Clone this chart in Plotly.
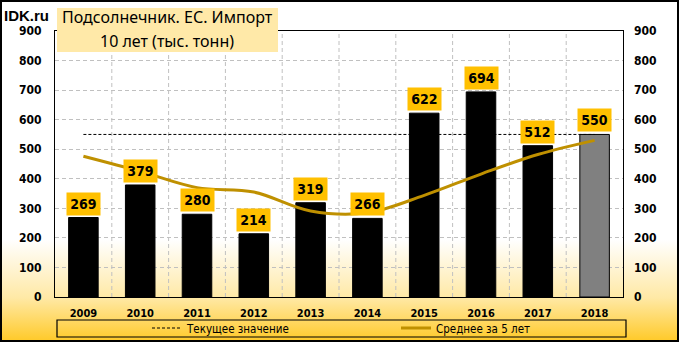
import base64
import plotly.graph_objects as go

years = ["2009", "2010", "2011", "2012", "2013", "2014", "2015", "2016", "2017", "2018"]
imports = [269, 379, 280, 214, 319, 266, 622, 694, 512, 550]
avg5 = [476, 425, 370, 355, 291, 285, 344, 416, 482, 530]
current_value = 550
bar_colors = ["#000000"] * 9 + ["#808080"]
tick_vals = list(range(0, 901, 100))
x_idx = list(range(len(years)))
y_min, y_max = 0, 900

W, H = 679, 342
ML, MR, MT, MB = 55, 56, 31, 45
PW, PH = W - ML - MR, H - MT - MB

def px_x(p):
    return (p - ML) / PW

def px_y(p):
    return (H - MB - p) / PH

svg = f'''<svg xmlns="http://www.w3.org/2000/svg" width="{W}" height="{H}" viewBox="0 0 {W} {H}" preserveAspectRatio="none">
<defs><linearGradient id="g" x1="0" y1="0" x2="0" y2="1">
<stop offset="0" stop-color="#FFFFFF"/>
<stop offset="0.70" stop-color="#FFFFFF"/>
<stop offset="0.87" stop-color="#FFE9A6"/>
<stop offset="1" stop-color="#FFC926"/>
</linearGradient></defs>
<rect x="0" y="0" width="{W}" height="{H}" fill="url(#g)"/></svg>'''
svg_uri = "data:image/svg+xml;base64," + base64.b64encode(svg.encode()).decode()

NARROW = "Liberation Sans Narrow, DejaVu Sans Condensed, sans-serif"
COND = "DejaVu Sans Condensed, DejaVu Sans, sans-serif"

fig = go.Figure()

# vertical gridlines at category boundaries (drawn on the base axis, under the bars)
gx, gy = [], []
for i in x_idx[:-1]:
    gx += [i + 0.5, i + 0.5, None]
    gy += [y_min, y_max, None]
fig.add_trace(go.Scatter(
    x=gx, y=gy, mode="lines", line=dict(color="#C0C0C0", width=1, dash="4px,3px"),
    showlegend=False, hoverinfo="skip", yaxis="y", connectgaps=False))

fig.add_trace(go.Scatter(
    x=x_idx, y=[current_value] * len(years), mode="lines",
    line=dict(color="#000000", width=1, dash="3px,2px"),
    name="Текущее значение", yaxis="y", hoverinfo="skip"))

fig.add_trace(go.Bar(
    x=x_idx, y=imports, marker=dict(color=bar_colors, line=dict(color="#000000", width=1)),
    width=0.52, showlegend=False, yaxis="y2"))

fig.add_trace(go.Scatter(
    x=x_idx, y=avg5, mode="lines",
    line=dict(color="#BF9000", width=3, shape="spline", smoothing=1.0),
    name="Среднее за 5 лет", yaxis="y2"))

annotations = []
for i, v in zip(x_idx, imports):
    annotations.append(dict(
        x=i, y=v, xref="x", yref="y2", yanchor="bottom", yshift=2,
        text=f"<b>{v}</b>", showarrow=False, bgcolor="#FFC000",
        width=33, height=22, borderpad=0,
        font=dict(family=COND, size=14, color="#000000")))

annotations += [
    dict(xref="paper", yref="paper", x=px_x(2), y=px_y(16), xanchor="left", yanchor="middle",
         text="<b>IDK.ru</b>", showarrow=False,
         font=dict(family="Liberation Sans, Arial, sans-serif", size=15, color="#000000")),
    dict(xref="paper", yref="paper", x=px_x(167), y=px_y(17), xanchor="center", yanchor="middle",
         text="Подсолнечник. ЕС. Импорт", showarrow=False,
         font=dict(family="Noto Sans, sans-serif", size=16, color="#000000")),
    dict(xref="paper", yref="paper", x=px_x(167), y=px_y(41), xanchor="center", yanchor="middle",
         text="10 лет (тыс. тонн)", showarrow=False,
         font=dict(family="Noto Sans, sans-serif", size=16, color="#000000")),
]

shapes = [
    dict(type="rect", xref="paper", yref="paper", x0=px_x(57), x1=px_x(278), y0=px_y(52), y1=px_y(8),
         fillcolor="#FFE9A8", line=dict(width=0), layer="above"),
    dict(type="rect", xref="paper", yref="paper", x0=px_x(57), x1=px_x(626), y0=px_y(337), y1=px_y(320),
         fillcolor="rgba(0,0,0,0)", line=dict(color="#000000", width=1.2), layer="above"),
    dict(type="rect", xref="paper", yref="paper", x0=px_x(1), x1=px_x(W - 1), y0=px_y(H - 1), y1=px_y(1),
         fillcolor="rgba(0,0,0,0)", line=dict(color="#000000", width=2), layer="above"),
]

fig.update_layout(
    width=W, height=H,
    margin=dict(l=ML, r=MR, t=MT, b=MB, pad=0, autoexpand=False),
    paper_bgcolor="#FFFFFF", plot_bgcolor="rgba(0,0,0,0)",
    images=[dict(source=svg_uri, xref="paper", yref="paper", x=px_x(0), y=px_y(0),
                 sizex=W / PW, sizey=H / PH, xanchor="left", yanchor="top",
                 sizing="stretch", layer="below")],
    xaxis=dict(type="linear", range=[-0.5, 9.5], autorange=False,
               tickvals=x_idx, ticktext=years, showgrid=False,
               showline=True, linecolor="#000000", linewidth=1, zeroline=False,
               mirror=True, ticks="", ticklabelstandoff=6, tickangle=0,
               tickfont=dict(family=NARROW, size=11, color="#000000", weight="bold")),
    yaxis=dict(range=[y_min, y_max], autorange=False, tickvals=tick_vals, showgrid=True, gridcolor="#C0C0C0",
               griddash="4px,3px", gridwidth=1, showline=True, linecolor="#000000", linewidth=1, mirror=True,
               ticks="", ticklabelstandoff=10, zeroline=False,
               tickfont=dict(family=COND, size=12, color="#000000", weight="bold")),
    yaxis2=dict(range=[y_min, y_max], autorange=False, tickvals=tick_vals, overlaying="y", side="right",
                showgrid=False, zeroline=False, showline=False, ticks="", ticklabelstandoff=10,
                tickfont=dict(family=COND, size=12, color="#000000", weight="bold")),
    showlegend=True,
    legend=dict(orientation="h", x=px_x(147), y=px_y(328), xanchor="left", yanchor="middle",
                bgcolor="rgba(0,0,0,0)", borderwidth=0, entrywidth=204, entrywidthmode="pixels",
                font=dict(family=NARROW, size=11.5, color="#000000"), traceorder="normal"),
    annotations=annotations, shapes=shapes, bargap=0.48,
)

fig.write_html("out.html")
